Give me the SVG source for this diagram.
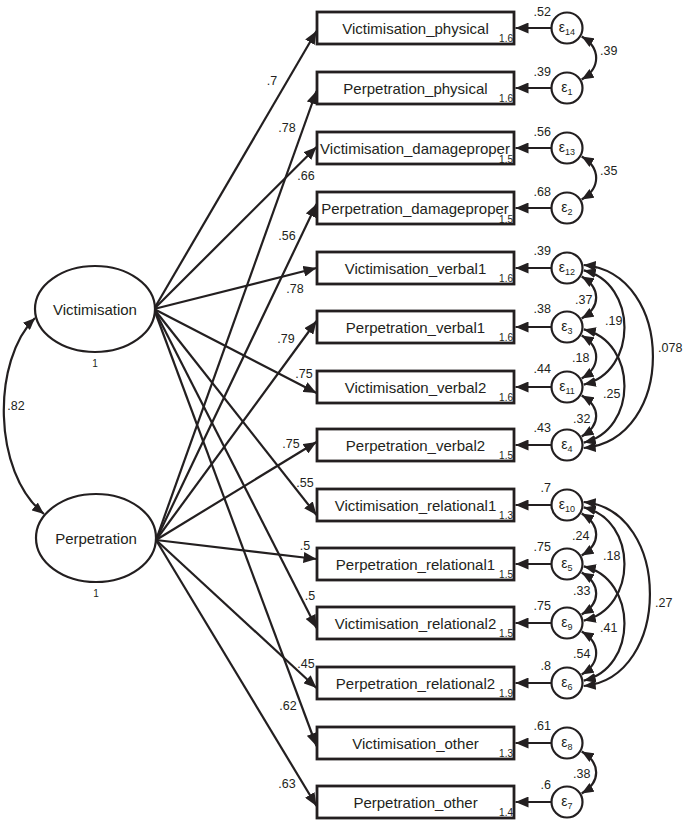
<svg xmlns="http://www.w3.org/2000/svg" width="685" height="825" viewBox="0 0 685 825">
<defs>
<style>
.box{fill:#fff;stroke:#231f20;stroke-width:2.8}
.lat{fill:#fff;stroke:#231f20;stroke-width:2.2}
.err{fill:#fff;stroke:#231f20;stroke-width:2.2}
.lbl{font-family:"Liberation Sans",Arial,sans-serif;font-size:15px;fill:#231f20;text-anchor:middle}
.int{font-family:"Liberation Sans",Arial,sans-serif;font-size:10px;fill:#231f20;text-anchor:end}
.one{font-family:"Liberation Sans",Arial,sans-serif;font-size:10px;fill:#231f20;text-anchor:middle}
.num{font-family:"Liberation Sans",Arial,sans-serif;font-size:12.5px;fill:#231f20}
.mid{text-anchor:middle}
.end{text-anchor:end}
.eps{font-family:"Liberation Sans",Arial,sans-serif;font-size:14px;fill:#231f20;text-anchor:middle}
.sub{font-size:9px}
.path{fill:none;stroke:#231f20;stroke-width:2.2;marker-end:url(#ah)}
.cov{fill:none;stroke:#231f20;stroke-width:2.2;marker-start:url(#ch);marker-end:url(#ch)}
</style>
<marker id="ah" viewBox="0 0 13 11" refX="13" refY="5.5" markerWidth="13" markerHeight="11" markerUnits="userSpaceOnUse" orient="auto"><path d="M0,0L13,5.5L0,11z" fill="#231f20"/></marker>
<marker id="ch" viewBox="0 0 12 10" refX="12" refY="5" markerWidth="12" markerHeight="10" markerUnits="userSpaceOnUse" orient="auto-start-reverse"><path d="M0,0L12,5L0,10z" fill="#231f20"/></marker>
</defs>

<g id="connectors">
  <path class="cov" d="M35,318 C-8,360 -8,472 44,514"/>
  <text class="num mid" x="16" y="410">.82</text>

  <path class="path" d="M154,309 L316.5,31"/>
  <path class="path" d="M154,309 L316.5,147"/>
  <path class="path" d="M154,309 L316.5,268"/>
  <path class="path" d="M154,309 L316.5,393"/>
  <path class="path" d="M154,309 L316.5,515"/>
  <path class="path" d="M154,309 L316.5,628"/>
  <path class="path" d="M154,309 L316.5,746"/>
  <path class="path" d="M156,540 L316.5,91"/>
  <path class="path" d="M156,540 L316.5,204"/>
  <path class="path" d="M156,540 L316.5,321"/>
  <path class="path" d="M156,540 L316.5,442"/>
  <path class="path" d="M156,540 L316.5,559"/>
  <path class="path" d="M156,540 L316.5,688"/>
  <path class="path" d="M156,540 L316.5,806"/>

  <text class="num mid" x="272" y="85">.7</text>
  <text class="num mid" x="287" y="132">.78</text>
  <text class="num mid" x="306" y="180">.66</text>
  <text class="num mid" x="287" y="240">.56</text>
  <text class="num mid" x="295" y="293">.78</text>
  <text class="num mid" x="286" y="343">.79</text>
  <text class="num mid" x="304" y="378">.75</text>
  <text class="num mid" x="291" y="448">.75</text>
  <text class="num mid" x="305" y="487">.55</text>
  <text class="num mid" x="305" y="550">.5</text>
  <text class="num mid" x="310" y="600">.5</text>
  <text class="num mid" x="306" y="668">.45</text>
  <text class="num mid" x="288" y="710">.62</text>
  <text class="num mid" x="287" y="788">.63</text>

  <path class="path" d="M551,28 L515.5,28"/>
  <path class="path" d="M551,88 L515.5,88"/>
  <path class="path" d="M551,148 L515.5,148"/>
  <path class="path" d="M551,208 L515.5,208"/>
  <path class="path" d="M551,268 L515.5,268"/>
  <path class="path" d="M551,327 L515.5,327"/>
  <path class="path" d="M551,387 L515.5,387"/>
  <path class="path" d="M551,445 L515.5,445"/>
  <path class="path" d="M551,505 L515.5,505"/>
  <path class="path" d="M551,564 L515.5,564"/>
  <path class="path" d="M551,623 L515.5,623"/>
  <path class="path" d="M551,683 L515.5,683"/>
  <path class="path" d="M551,743 L515.5,743"/>
  <path class="path" d="M551,802 L515.5,802"/>

  <text class="num end" x="551" y="16">.52</text>
  <text class="num end" x="551" y="76">.39</text>
  <text class="num end" x="551" y="136">.56</text>
  <text class="num end" x="551" y="196">.68</text>
  <text class="num end" x="551" y="255">.39</text>
  <text class="num end" x="551" y="313">.38</text>
  <text class="num end" x="551" y="373">.44</text>
  <text class="num end" x="551" y="432">.43</text>
  <text class="num end" x="551" y="492">.7</text>
  <text class="num end" x="551" y="551">.75</text>
  <text class="num end" x="551" y="610">.75</text>
  <text class="num end" x="551" y="670">.8</text>
  <text class="num end" x="551" y="730">.61</text>
  <text class="num end" x="551" y="789">.6</text>

  <path class="cov" d="M581.7,36.5 C601,48 601,68 581.7,79.5"/>
  <path class="cov" d="M581.7,156.5 C601,168 601,188 581.7,199.5"/>
  <path class="cov" d="M581.7,276.5 C601,288 601,307 581.7,318.5"/>
  <path class="cov" d="M581.7,335.5 C601,347 601,367 581.7,378.5"/>
  <path class="cov" d="M581.7,395.5 C601,407 601,425 581.7,436.5"/>
  <path class="cov" d="M581.7,513.5 C601,525 601,544 581.7,555.5"/>
  <path class="cov" d="M581.7,572.5 C601,584 601,603 581.7,614.5"/>
  <path class="cov" d="M581.7,631.5 C601,643 601,663 581.7,674.5"/>
  <path class="cov" d="M581.7,751.5 C601,763 601,782 581.7,793.5"/>
  <path class="cov" d="M583.8,270.4 C638,283 638,372 583.8,384.6"/>
  <path class="cov" d="M583.8,329.4 C638,342 638,430 583.8,442.6"/>
  <path class="cov" d="M583.8,507.4 C638,520 638,608 583.8,620.6"/>
  <path class="cov" d="M583.8,566.4 C638,579 638,668 583.8,680.6"/>
  <path class="cov" d="M583.7,265 C676,273 676,440 583.7,448"/>
  <path class="cov" d="M583.7,502 C672,510 672,678 583.7,686"/>

  <text class="num" x="600" y="55">.39</text>
  <text class="num" x="600" y="175">.35</text>
  <text class="num" x="575" y="304">.37</text>
  <text class="num" x="605" y="325">.19</text>
  <text class="num" x="658" y="352">.078</text>
  <text class="num" x="572" y="362">.18</text>
  <text class="num" x="603" y="398">.25</text>
  <text class="num" x="573" y="423">.32</text>
  <text class="num" x="572" y="540">.24</text>
  <text class="num" x="603" y="560">.18</text>
  <text class="num" x="655" y="607">.27</text>
  <text class="num" x="573" y="595">.33</text>
  <text class="num" x="600" y="632">.41</text>
  <text class="num" x="573" y="658">.54</text>
  <text class="num" x="573" y="778">.38</text>
</g>

<g id="Victimisation">
  <ellipse class="lat" cx="95" cy="309" rx="60" ry="43"/>
  <text class="lbl" x="95" y="314.5">Victimisation</text>
  <text class="one" x="95" y="367">1</text>
</g>
<g id="Perpetration">
  <ellipse class="lat" cx="96" cy="538" rx="60" ry="44"/>
  <text class="lbl" x="96" y="543.5">Perpetration</text>
  <text class="one" x="96" y="597">1</text>
</g>

<g id="Victimisation_physical"><rect class="box" x="317" y="12" width="197" height="32"/><text class="lbl" x="415.5" y="33.5">Victimisation_physical</text><text class="int" x="513" y="42">1.6</text></g>
<g id="Perpetration_physical"><rect class="box" x="317" y="72" width="197" height="32"/><text class="lbl" x="415.5" y="93.5">Perpetration_physical</text><text class="int" x="513" y="102">1.6</text></g>
<g id="Victimisation_damageproper"><rect class="box" x="317" y="132" width="197" height="32"/><text class="lbl" x="415" y="153.5">Victimisation_damageproper</text><text class="int" x="513" y="162.5">1.5</text></g>
<g id="Perpetration_damageproper"><rect class="box" x="317" y="192" width="197" height="32"/><text class="lbl" x="415" y="213.5">Perpetration_damageproper</text><text class="int" x="513" y="222.5">1.5</text></g>
<g id="Victimisation_verbal1"><rect class="box" x="317" y="252" width="197" height="32"/><text class="lbl" x="415.5" y="273.5">Victimisation_verbal1</text><text class="int" x="513" y="282">1.6</text></g>
<g id="Perpetration_verbal1"><rect class="box" x="317" y="311" width="197" height="32"/><text class="lbl" x="415.5" y="332.5">Perpetration_verbal1</text><text class="int" x="513" y="341">1.6</text></g>
<g id="Victimisation_verbal2"><rect class="box" x="317" y="371" width="197" height="32"/><text class="lbl" x="415.5" y="392.5">Victimisation_verbal2</text><text class="int" x="513" y="401">1.6</text></g>
<g id="Perpetration_verbal2"><rect class="box" x="317" y="429" width="197" height="32"/><text class="lbl" x="415.5" y="450.5">Perpetration_verbal2</text><text class="int" x="513" y="459">1.5</text></g>
<g id="Victimisation_relational1"><rect class="box" x="317" y="489" width="197" height="32"/><text class="lbl" x="415.5" y="510.5">Victimisation_relational1</text><text class="int" x="513" y="519">1.3</text></g>
<g id="Perpetration_relational1"><rect class="box" x="317" y="548" width="197" height="32"/><text class="lbl" x="415.5" y="569.5">Perpetration_relational1</text><text class="int" x="513" y="578">1.5</text></g>
<g id="Victimisation_relational2"><rect class="box" x="317" y="607" width="197" height="32"/><text class="lbl" x="415.5" y="628.5">Victimisation_relational2</text><text class="int" x="513" y="637">1.5</text></g>
<g id="Perpetration_relational2"><rect class="box" x="317" y="667" width="197" height="32"/><text class="lbl" x="415.5" y="688.5">Perpetration_relational2</text><text class="int" x="513" y="697">1.9</text></g>
<g id="Victimisation_other"><rect class="box" x="317" y="727" width="197" height="32"/><text class="lbl" x="415.5" y="748.5">Victimisation_other</text><text class="int" x="513" y="757">1.3</text></g>
<g id="Perpetration_other"><rect class="box" x="317" y="786" width="197" height="32"/><text class="lbl" x="415.5" y="807.5">Perpetration_other</text><text class="int" x="513" y="816">1.4</text></g>

<g id="e14"><circle class="err" cx="567" cy="28" r="15.5"/><text class="eps" x="567" y="32">ε<tspan class="sub" dy="3">14</tspan></text></g>
<g id="e1"><circle class="err" cx="567" cy="88" r="15.5"/><text class="eps" x="567" y="92">ε<tspan class="sub" dy="3">1</tspan></text></g>
<g id="e13"><circle class="err" cx="567" cy="148" r="15.5"/><text class="eps" x="567" y="152">ε<tspan class="sub" dy="3">13</tspan></text></g>
<g id="e2"><circle class="err" cx="567" cy="208" r="15.5"/><text class="eps" x="567" y="212">ε<tspan class="sub" dy="3">2</tspan></text></g>
<g id="e12"><circle class="err" cx="567" cy="268" r="15.5"/><text class="eps" x="567" y="272">ε<tspan class="sub" dy="3">12</tspan></text></g>
<g id="e3"><circle class="err" cx="567" cy="327" r="15.5"/><text class="eps" x="567" y="331">ε<tspan class="sub" dy="3">3</tspan></text></g>
<g id="e11"><circle class="err" cx="567" cy="387" r="15.5"/><text class="eps" x="567" y="391">ε<tspan class="sub" dy="3">11</tspan></text></g>
<g id="e4"><circle class="err" cx="567" cy="445" r="15.5"/><text class="eps" x="567" y="449">ε<tspan class="sub" dy="3">4</tspan></text></g>
<g id="e10"><circle class="err" cx="567" cy="505" r="15.5"/><text class="eps" x="567" y="509">ε<tspan class="sub" dy="3">10</tspan></text></g>
<g id="e5"><circle class="err" cx="567" cy="564" r="15.5"/><text class="eps" x="567" y="568">ε<tspan class="sub" dy="3">5</tspan></text></g>
<g id="e9"><circle class="err" cx="567" cy="623" r="15.5"/><text class="eps" x="567" y="627">ε<tspan class="sub" dy="3">9</tspan></text></g>
<g id="e6"><circle class="err" cx="567" cy="683" r="15.5"/><text class="eps" x="567" y="687">ε<tspan class="sub" dy="3">6</tspan></text></g>
<g id="e8"><circle class="err" cx="567" cy="743" r="15.5"/><text class="eps" x="567" y="747">ε<tspan class="sub" dy="3">8</tspan></text></g>
<g id="e7"><circle class="err" cx="567" cy="802" r="15.5"/><text class="eps" x="567" y="806">ε<tspan class="sub" dy="3">7</tspan></text></g>
</svg>
